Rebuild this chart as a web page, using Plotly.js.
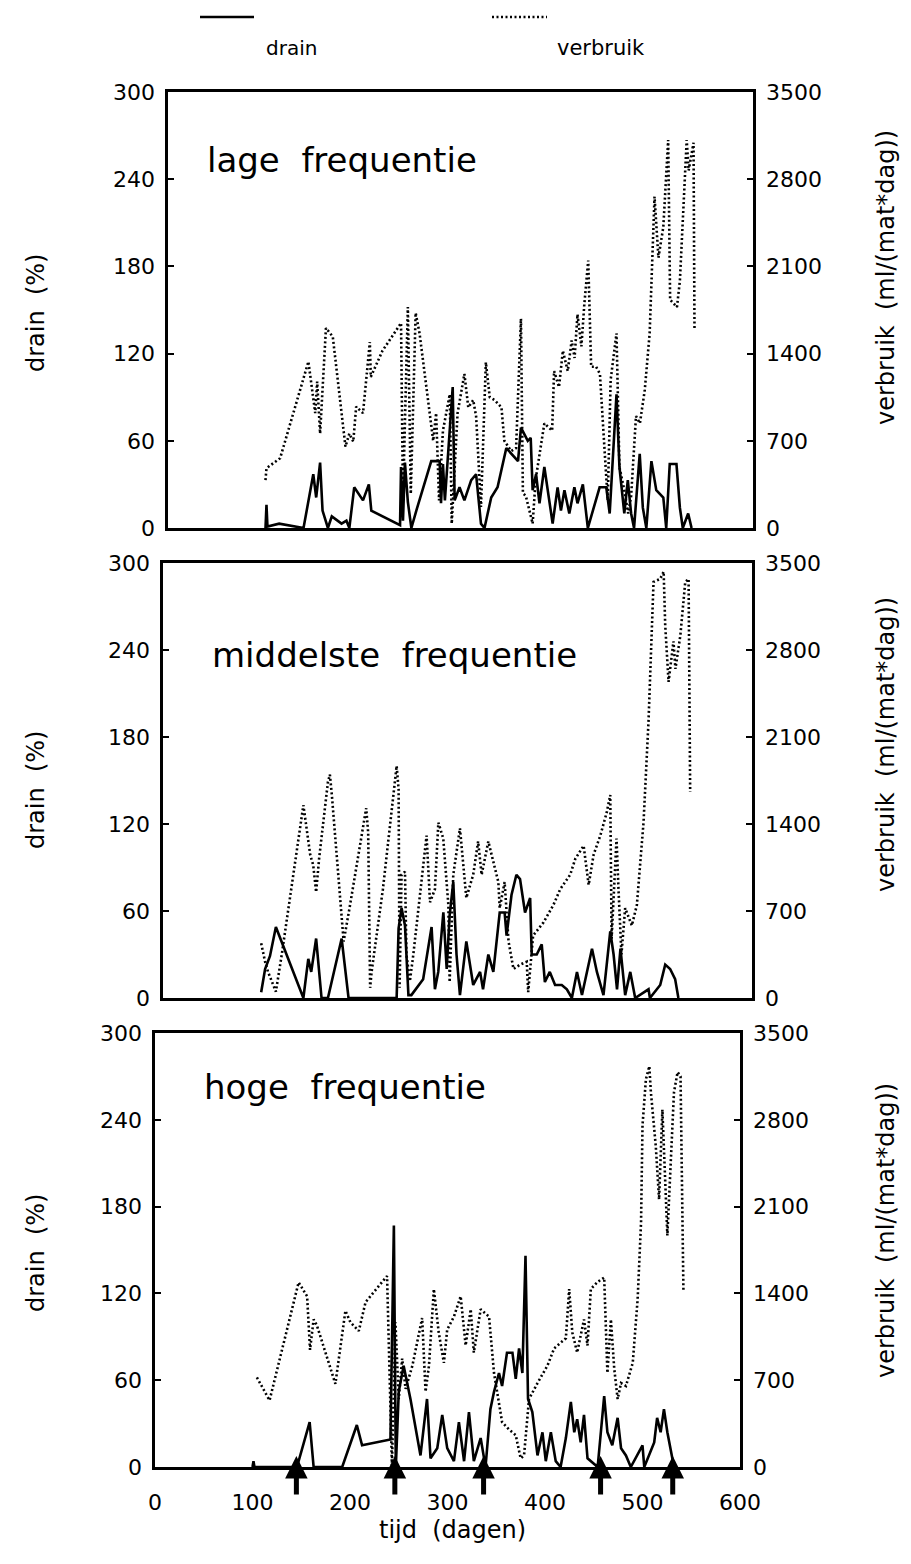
<!DOCTYPE html>
<html>
<head>
<meta charset="utf-8">
<script src="https://cdn.plot.ly/plotly-3.0.1.min.js"></script>
<style>html,body{margin:0;padding:0;background:#fff;}#chart{width:911px;height:1564px;}</style>
</head>
<body>
<div id="chart"></div>
<script>
// ---- data (days, drain %, verbruik ml/(mat*dag)) ----
var panelTitles = ["lage\u00a0 frequentie", "middelste\u00a0 frequentie", "hoge\u00a0 frequentie"];
var xTickVals = [0, 100, 200, 300, 400, 500, 600];
var drainTickVals = [0, 60, 120, 180, 240, 300];
var verbruikTickVals = [0, 700, 1400, 2100, 2800, 3500];
var arrowDays = [145, 246, 337, 457, 531];

var lowDrainDays = [100,101,102,114,139,149,152,156,158.5,164,168,178,183,186,191,200,206,208.5,238,239,241,243,246,249.6,254.7,270,278.6,280,282,284,292,294,299,304,311,316,321,324.6,331.5,338,347,352,359,362,365.5,369,372,374,377.5,381,386,391,394.5,399.6,403,406.6,411.6,416.8,420,425.5,430.6,442.7,449.5,453,460,463,468,471.6,475,478,483.8,487,490.6,495.8,500.8,508,511,514.6,521.5,525,528,533.5,537];
var lowDrain = [0,16,1,3,0,37,21,45,12,0,8,3,5,0,28,19,30,12,2,42,5,45,18,0,12,46,46,17,44,19,97,19,28,19,33,37,3,0,21,28,55,51,46,69,64,60,62,26,37,17,42,17,3,28,12,26,10,28,17,30,0,28,28,10,92,42,10,33,10,0,51,14,0,46,26,21,0,44,44,14,0,10,0];
var lowVerbDays = [100,101,115,144,151,153,156,158,162,169,182,186,190,193,200,207,208,220,239,241,246,249,251,254,258,272,275,278,282,289,291,297,304,308,313,316,321,326,330,335,342,345,352,357,362,364,367,374,377,386,394,396,401,405,410,414,417,420,424,427,431,434,439,443,448,451,454,460,463,468,472,475,480,484,489,494,499,503,508,513,515,522,525,532,534,539,540];
var lowVerb = [385,480,560,1336,922,1175,758,1027,1605,1536,653,758,693,974,922,1493,1213,1423,1645,222,1773,274,922,1727,1563,700,922,222,782,1073,35,922,1237,968,1027,898,169,1330,1050,1027,968,700,618,642,1680,280,257,35,385,840,782,1260,1132,1423,1260,1505,1365,1715,1458,1797,2147,1295,1295,1237,595,222,1190,1563,490,303,117,257,898,840,1108,1563,2660,2170,2415,3115,1832,1773,1983,3115,2870,3092,1587];

var midDrainDays = [100,104,109,115,143,148,151,156,161.5,168,182,189,238,240,243,246.5,250,253,265,273.6,277,280.4,285.6,289,292,295.7,299,302.5,309,316,323,326,331.4,336.5,343,348,350,355,360,363.7,368.8,374,375.6,380.7,385.8,389,394,399.4,406.2,411.4,416.5,421.7,426.8,431.9,437,442,448.7,455.6,459,462.5,466,470.8,476,481,494.6,496,506.5,511.6,516.6,521.7,525];
var midDrain = [4,20,29,49,0,27,18,41,0,0,41,0,0,48,62,50,2,2,13,49,6,18,59,20,57,80,30,2,39,9,18,6,30,18,59,59,43,71,85,82,59,69,30,30,37,11,18,9,9,6,0,18,2,18,34,18,2,46,30,6,34,2,18,0,6,0,9,23,20,13,0];
var midVerbDays = [100,104,107,115,121,143,150,153,156,159,168,170,172,184,190,207,209,211,212.5,224,238,240,241,243,246.5,248,251.5,255,268.5,272,277,280.5,285.5,290.7,292,295.7,302.5,309,316,321,324.6,331.4,341.6,343,348,352,357,363.7,370.5,372,377,387.5,397.6,404.6,414.8,420,428.5,433.6,438.7,445.5,452,455.6,457,462,464,467,470.8,477.6,482.7,489.5,494.6,499.7,506.5,510,511.6,515,520,522,527,532,535.4,537];
var midVerb = [440,292,210,51,350,1552,1150,1070,852,1120,1738,1797,1633,455,723,1528,1330,82,210,875,1867,1680,82,992,1015,350,135,350,1307,770,875,1412,1283,747,128,992,1365,805,992,1260,992,1260,933,723,933,455,233,268,292,47,502,607,747,875,992,1120,1225,910,1155,1307,1493,1633,478,1283,875,350,723,583,747,1412,2228,3348,3372,3430,2998,2543,2870,2648,2917,3348,3372,1657];

var highDrainDays = [100,101,102,145.6,158.6,162.7,192,207,212.4,241.5,242,245,247,250,255,262,272.3,279,282.6,289.5,294.6,299.7,306.6,311.7,317,322,327,334,339,344,347.7,352.8,356,361,366.6,370,373.4,376.8,380,382.6,387,392.3,397.4,400.8,406,411,416,421.4,426.5,430,433,436.6,440,443.6,454,460.7,464,469,474.5,478,483,488,500,501.8,512,515,518.6,522,525.5,532.3];
var highDrain = [0,4,0,0,31,0,0,29,15,19,42,167,0,52,70,47,8,47,6,13,36,13,4,31,4,38,4,20,0,40,52,65,56,79,79,61,82,65,146,47,38,8,24,4,24,4,0,20,45,24,33,17,36,6,0,49,24,15,34,13,8,0,15,0,17,34,24,40,24,0];
var highVerbDays = [104.5,117.5,147.3,156,159,162.7,166,185,195.3,200.4,209,216,238,243,246.6,250,253.5,257,264,274,277.5,281,286,291,296.3,299.7,306.6,313.5,318.6,323.8,327,334,342.6,347.7,356,363,370,375,378.5,383.6,392.3,402.5,409.4,421.4,424.8,428,433,440,443.6,447,454,460.7,464,467.6,471,474.5,478,483,490,495,498.5,500,503.5,507,508.6,513.6,517,520.4,525.5,529,532.3,536,539,542];
var highVerb = [723,537,1489,1377,945,1190,1143,671,1260,1167,1097,1330,1540,12,1167,548,875,630,817,1202,607,817,1435,1085,840,1108,1213,1377,980,1272,922,1272,1213,758,362,303,257,70,93,548,677,817,957,1038,1435,1085,922,1190,980,1435,1493,1528,758,1190,793,548,677,653,840,1353,1972,2753,3127,3232,3022,2590,2158,2882,1867,2485,3022,3185,3150,1412];

// ---- layout geometry (pixels) ----
var W = 911, H = 1564;
var FONT = "DejaVu Sans, Verdana, sans-serif";
var panels = [
  {x0:168, x1:753, top:92,   bot:528,  dd:lowDrainDays,  dv:lowDrain,  vd:lowVerbDays,  vv:lowVerb,  titleY:160,  titleX:205, lY:313,  rY:278},
  {x0:163, x1:752, top:563,  bot:998,  dd:midDrainDays,  dv:midDrain,  vd:midVerbDays,  vv:midVerb,  titleY:655,  titleX:210, lY:790,  rY:745},
  {x0:155, x1:740, top:1033, bot:1467, dd:highDrainDays, dv:highDrain, vd:highVerbDays, vv:highVerb, titleY:1087, titleX:202, lY:1253, rY:1231}
];
function px(x){ return x / W; }
function py(y){ return 1 - y / H; }
var tickFont = {family: FONT, size: 22, color: "#000"};

var traces = [];
var layout = {
  width: W, height: H,
  margin: {l:0, r:0, t:0, b:0},
  paper_bgcolor: "#fff", plot_bgcolor: "#fff",
  showlegend: false,
  font: {family: FONT, color: "#000", size: 20},
  annotations: [], shapes: []
};

panels.forEach(function(p, i){
  var n = i + 1;
  var xa = "xaxis" + (n === 1 ? "" : n), ya = "yaxis" + (n === 1 ? "" : n), yr = "yaxis" + (n + 3);
  var xs = "x" + (n === 1 ? "" : n), ys = "y" + (n === 1 ? "" : n), yrs = "y" + (n + 3);
  traces.push({x: p.vd, y: p.vv, xaxis: xs, yaxis: yrs, type: "scatter", mode: "lines",
    line: {color: "#000", width: 2.6, dash: "2px,2.5px"}, name: "verbruik", hoverinfo: "skip"});
  traces.push({x: p.dd, y: p.dv, xaxis: xs, yaxis: ys, type: "scatter", mode: "lines",
    line: {color: "#000", width: 2.6}, name: "drain", hoverinfo: "skip"});
  layout[xa] = {domain: [px(p.x0), px(p.x1)], range: [0, 600], anchor: ys,
    showgrid: false, zeroline: false, showline: true, mirror: true, linecolor: "#000", linewidth: 2.6,
    ticks: "", tickvals: xTickVals, showticklabels: (n === 3), ticklabelstandoff: 14,
    tickfont: tickFont, fixedrange: true};
  layout[ya] = {domain: [py(p.bot), py(p.top)], range: [0, 300], anchor: xs,
    showgrid: false, zeroline: false, showline: true, linecolor: "#000", linewidth: 2.6,
    ticks: "inside", ticklen: 6, tickwidth: 2, tickcolor: "#000", tickvals: drainTickVals,
    ticklabelstandoff: 6, tickfont: tickFont, fixedrange: true};
  layout[yr] = {range: [0, 3500], overlaying: ys, side: "right", anchor: xs,
    showgrid: false, zeroline: false, showline: true, linecolor: "#000", linewidth: 2.6,
    ticks: "inside", ticklen: 6, tickwidth: 2, tickcolor: "#000", tickvals: verbruikTickVals,
    ticklabelstandoff: 6, tickfont: tickFont, fixedrange: true};
  layout.annotations.push({text: panelTitles[i], xref: "paper", yref: "paper", x: px(p.titleX), y: py(p.titleY),
    xanchor: "left", yanchor: "middle", showarrow: false, font: {family: FONT, size: 34, color: "#000"}});
  layout.annotations.push({text: "drain\u00a0 (%)", xref: "paper", yref: "paper", x: px(36), y: py(p.lY),
    xanchor: "center", yanchor: "middle", textangle: -90, showarrow: false, font: {family: FONT, size: 24, color: "#000"}});
  layout.annotations.push({text: "verbruik\u00a0 (ml/(mat*dag))", xref: "paper", yref: "paper", x: px(886), y: py(p.rY),
    xanchor: "center", yanchor: "middle", textangle: -90, showarrow: false, font: {family: FONT, size: 24, color: "#000"}});
});

// arrows under the bottom panel
arrowDays.forEach(function(d){
  layout.annotations.push({x: d, y: py(1456), xref: "x3", yref: "paper", text: "", showarrow: true,
    ax: 0, ay: 40, arrowhead: 2, arrowsize: 0.9, arrowwidth: 5, arrowcolor: "#000", standoff: 0});
});

// x-axis title
layout.annotations.push({text: "tijd\u00a0 (dagen)", xref: "paper", yref: "paper", x: px(452), y: py(1530),
  xanchor: "center", yanchor: "middle", showarrow: false, font: {family: FONT, size: 24, color: "#000"}});

// legend at top
layout.shapes.push({type: "line", xref: "paper", yref: "paper", x0: px(200), x1: px(254), y0: py(17), y1: py(17),
  line: {color: "#000", width: 2.6}});
layout.shapes.push({type: "line", xref: "paper", yref: "paper", x0: px(492), x1: px(547), y0: py(17), y1: py(17),
  line: {color: "#000", width: 2.6, dash: "2px,2.5px"}});
layout.annotations.push({text: "drain", xref: "paper", yref: "paper", x: px(291), y: py(48),
  xanchor: "center", yanchor: "middle", showarrow: false, font: {family: FONT, size: 20, color: "#000"}});
layout.annotations.push({text: "verbruik", xref: "paper", yref: "paper", x: px(601), y: py(48),
  xanchor: "center", yanchor: "middle", showarrow: false, font: {family: FONT, size: 21, color: "#000"}});

Plotly.newPlot("chart", traces, layout, {displayModeBar: false, staticPlot: true});
</script>
</body>
</html>
